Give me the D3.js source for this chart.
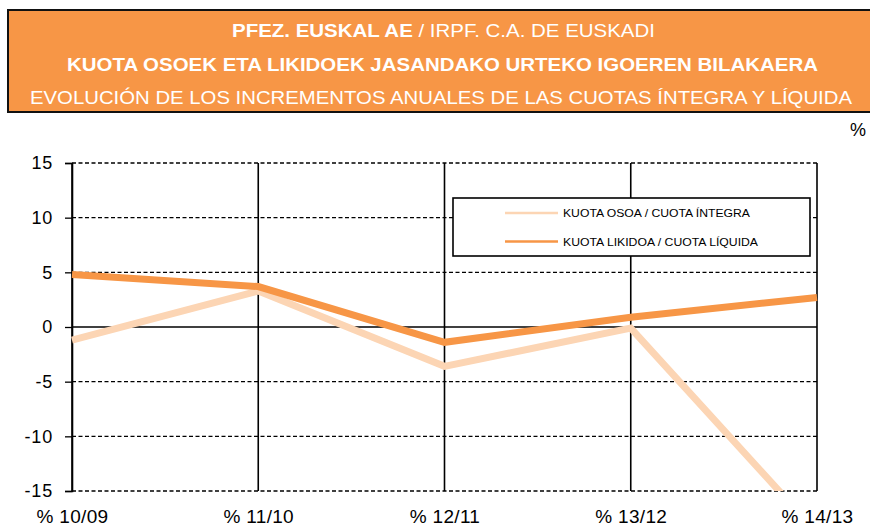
<!DOCTYPE html>
<html><head><meta charset="utf-8">
<script src="https://cdn.jsdelivr.net/npm/d3@7"></script>
<style>body{margin:0;background:#fff}svg{display:block;font-family:"Liberation Sans",Arial,sans-serif}</style>
</head><body><svg id="c" width="870" height="526"></svg>
<script>
const categories = ["% 10/09", "% 11/10", "% 12/11", "% 13/12", "% 14/13"];
const cuotaIntegra = [-1.2, 3.3, -3.6, -0.1, -18.8];
const cuotaLiquida = [4.8, 3.7, -1.4, 0.9, 2.7];
const yTicks = [15, 10, 5, 0, -5, -10, -15];
const seriesNames = ["KUOTA OSOA / CUOTA ÍNTEGRA", "KUOTA LIKIDOA / CUOTA LÍQUIDA"];
const titleLines = ["PFEZ. EUSKAL AE", " / IRPF. C.A. DE EUSKADI",
  "KUOTA OSOEK ETA LIKIDOEK JASANDAKO URTEKO IGOEREN BILAKAERA",
  "EVOLUCIÓN DE LOS INCREMENTOS ANUALES DE LAS CUOTAS ÍNTEGRA Y LÍQUIDA"];
const colors = ["#FCD5B4", "#F79646"];

const svg = d3.select("#c");
// header
svg.append("rect").attr("x", 8).attr("y", 10).attr("width", 870).attr("height", 102)
  .attr("fill", "#F79646").attr("stroke", "#111").attr("stroke-width", 2);
const t1 = svg.append("text").attr("x", 232).attr("y", 37)
  .attr("fill", "#fff").attr("font-size", 18).attr("textLength", 423).attr("lengthAdjust", "spacingAndGlyphs");
t1.append("tspan").attr("font-weight", "bold").text(titleLines[0]);
t1.append("tspan").text(titleLines[1]);
svg.append("text").attr("x", 67).attr("y", 71).attr("fill", "#fff")
  .attr("font-size", 18.5).attr("font-weight", "bold").attr("textLength", 751).attr("lengthAdjust", "spacingAndGlyphs").text(titleLines[2]);
svg.append("text").attr("x", 30).attr("y", 104).attr("fill", "#fff")
  .attr("font-size", 18.5).attr("textLength", 822).attr("lengthAdjust", "spacingAndGlyphs").text(titleLines[3]);
svg.append("text").attr("x", 866).attr("y", 136).attr("text-anchor", "end").attr("font-size", 18).attr("fill", "#000").text("%");

const x = d3.scalePoint().domain(categories).range([72, 817]);
const y = d3.scaleLinear().domain([-15, 15]).range([491, 163]);

const g = svg.append("g");
// horizontal grid
yTicks.forEach(v => {
  g.append("line").attr("x1", 72).attr("x2", 817).attr("y1", y(v)).attr("y2", y(v))
    .attr("stroke", "#000").attr("stroke-width", v === 0 ? 1.6 : 1.3)
    .attr("stroke-dasharray", v === 0 ? null : "4,2.5");
});
// vertical grid
categories.forEach(c => {
  g.append("line").attr("x1", x(c)).attr("x2", x(c)).attr("y1", y(15)).attr("y2", y(-15))
    .attr("stroke", "#000").attr("stroke-width", 1.6);
});
// y axis
const yAxis = d3.axisLeft(y).tickValues(yTicks).tickSize(7).tickPadding(12).tickFormat(d3.format("d"));
const ya = svg.append("g").attr("transform", "translate(72,0)").call(yAxis);
ya.select(".domain").attr("stroke-width", 1.6);
ya.selectAll(".tick line").attr("stroke-width", 1.3);
ya.selectAll("text").attr("font-size", 18).attr("font-family", "Liberation Sans, Arial").attr("fill", "#000")
  .attr("letter-spacing", 0.8)
  .text(d => d < 0 ? "-" + Math.abs(d) : d);
// x axis labels
const xAxis = d3.axisBottom(x).tickSize(0).tickPadding(0);
const xa = svg.append("g").attr("transform", "translate(0,491)").call(xAxis);
xa.select(".domain").remove();
xa.selectAll("text").attr("font-size", 19).attr("font-family", "Liberation Sans, Arial").attr("fill", "#000")
  .attr("letter-spacing", 0.3).attr("dy", null).attr("y", 32);

// clip
svg.append("clipPath").attr("id", "clip").append("rect").attr("x", 60).attr("y", 150).attr("width", 770).attr("height", 341);
const line = d3.line().x((d, i) => x(categories[i])).y(d => y(d));
[cuotaIntegra, cuotaLiquida].forEach((s, i) => {
  svg.append("path").datum(s).attr("d", line).attr("fill", "none").attr("stroke", colors[i])
    .attr("stroke-width", 7).attr("stroke-linejoin", "miter").attr("clip-path", "url(#clip)");
});

// legend
const lg = svg.append("g");
lg.append("rect").attr("x", 453).attr("y", 198).attr("width", 357).attr("height", 58)
  .attr("fill", "#fff").attr("stroke", "#000").attr("stroke-width", 1.6);
const legLen = [187, 195];
seriesNames.forEach((n, i) => {
  const yy = 213 + i * 28.5;
  lg.append("line").attr("x1", 505).attr("x2", 558).attr("y1", yy).attr("y2", yy)
    .attr("stroke", colors[i]).attr("stroke-width", 2.5);
  lg.append("text").attr("x", 563).attr("y", yy + 4).attr("font-size", 11)
    .attr("textLength", legLen[i]).attr("lengthAdjust", "spacingAndGlyphs")
    .attr("fill", "#000").text(n);
});
</script></body></html>
